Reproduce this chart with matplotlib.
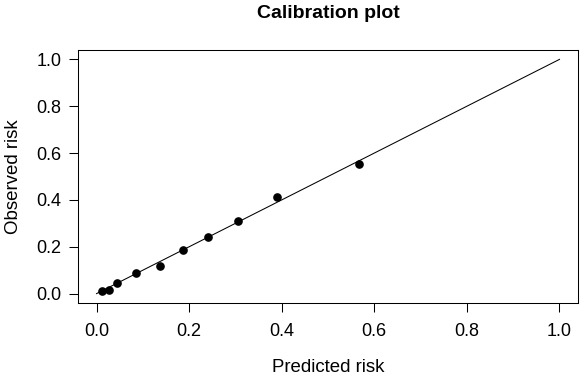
import matplotlib
matplotlib.use("Agg")
import matplotlib.pyplot as plt

plt.rcParams['font.family'] = ['Liberation Sans', 'DejaVu Sans']

# calibration points
predicted = [0.011, 0.026, 0.045, 0.085, 0.137, 0.186, 0.241, 0.306, 0.389, 0.566]
observed = [0.013, 0.017, 0.047, 0.090, 0.120, 0.185, 0.240, 0.309, 0.412, 0.555]

# reference line
ref_x = [0.0, 1.0]
ref_y = [0.0, 1.0]

ticks = [0.0, 0.2, 0.4, 0.6, 0.8, 1.0]
tick_labels = ['0.0', '0.2', '0.4', '0.6', '0.8', '1.0']

fig = plt.figure(figsize=(5.86, 3.80), dpi=100)
ax = fig.add_axes([78 / 586, 77 / 380, 500 / 586, 253 / 380])

ax.plot(ref_x, ref_y, color='black', lw=0.75)
ax.plot(predicted, observed, 'o', color='black', markersize=5.2)

ax.set_xlim(-0.04, 1.04)
ax.set_ylim(-0.04, 1.04)
ax.set_xticks(ticks)
ax.set_xticklabels(tick_labels)
ax.set_yticks(ticks)
ax.set_yticklabels(tick_labels)
ax.tick_params(axis='both', direction='out', length=6.8, width=0.75, labelsize=13, color='black')
ax.tick_params(axis='x', pad=7.5)
ax.tick_params(axis='y', pad=5)
for s in ax.spines.values():
    s.set_linewidth(0.75)

ax.set_xlabel('Predicted risk', fontsize=13.4)
ax.set_ylabel('Observed risk', fontsize=13.4)
ax.xaxis.set_label_coords(0.5, (303 - 359) / 253)
ax.yaxis.set_label_coords((22 - 78) / 500, 0.5)

fig.text(328 / 586, 1 - 13 / 380, 'Calibration plot', ha='center', va='center',
         fontsize=14, fontweight='bold')

fig.savefig('out.png', dpi=100)
